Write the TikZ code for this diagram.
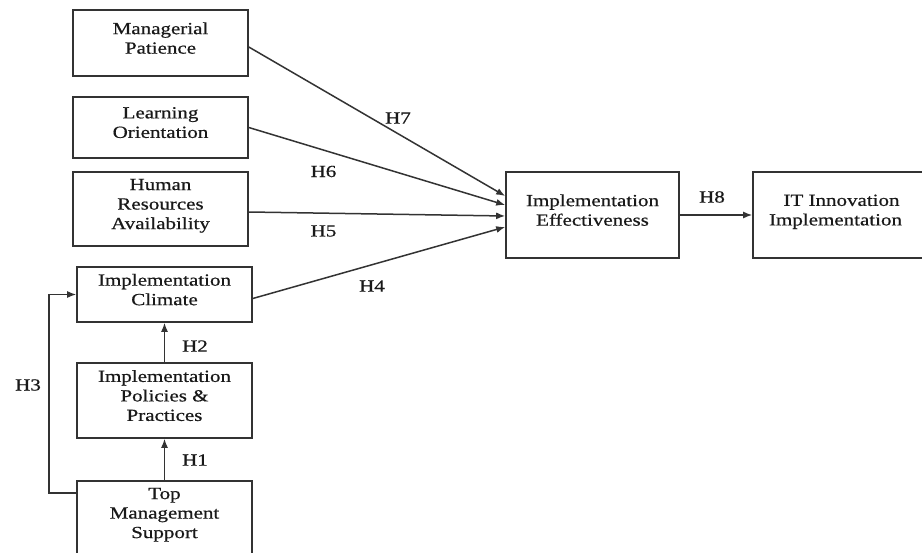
\documentclass[tikz,border=0pt]{standalone}
\usepackage{fontspec}
\setmainfont{Liberation Serif}[FakeStretch=1.235, FakeBold=0.6]
\usetikzlibrary{arrows.meta}

\tikzset{
  box/.style={draw=black!80, line width=1.6pt, minimum width=175pt, align=center, inner sep=0pt,
    execute at begin node={\rule{0pt}{12pt}}, execute at end node={\rule[-10pt]{0pt}{10pt}}},
  arr/.style={-{Latex[length=9pt,width=7pt]}, draw=black!80, line width=1.5pt},
  hyp/.style={inner sep=0pt}
}

\begin{document}
\begin{tikzpicture}[x=1pt, y=-1pt, font=\fontsize{17}{19.5}\selectfont, text=black!90]
  \useasboundingbox[fill=white] (0,0) rectangle (922,553);

  % left column
  \node[box, minimum height=66pt] (mp) at (160.5,43) {Managerial\\Patience};
  \node[box, minimum height=61pt] (lo) at (160.5,127.5) {Learning\\Orientation};
  \node[box, minimum height=74pt] (hr) at (160.5,209) {Human\\Resources\\Availability};
  \node[box, minimum height=55pt] (ic) at (164.5,294.5) {Implementation\\Climate};
  \node[box, minimum height=75pt] (ipp) at (164.5,400.5) {Implementation\\Policies \&\\Practices};
  \node[box, minimum height=74pt] (tms) at (164.5,518) {Top\\Management\\Support};

  % right side
  \node[box, minimum width=173pt, minimum height=86pt] (ie) at (592.5,215) {Implementation\\Effectiveness};
  \node[box, minimum width=177pt, minimum height=86pt] (it) at (841.5,215) {IT Innovation\\Implementation\hspace*{12pt}};

  \draw[arr] ([yshift=-4pt]mp.east) -- ([yshift=19pt]ie.west);
  \draw[arr] (lo.east) -- ([yshift=10pt]ie.west);
  \draw[arr] ([yshift=-3pt]hr.east) -- ([yshift=-1pt]ie.west);
  \draw[arr] ([yshift=-4pt]ic.east) -- ([yshift=-12pt]ie.west);
  \draw[arr] (ie) -- (it);
  \draw[arr] (ipp) -- (ic);
  \draw[arr] (tms) -- (ipp);
  \draw[arr] ([yshift=25pt]tms.west) -- ++(-27,0) |- (ic.west);

  % hypotheses
  \node[hyp] (h1) at (195,460) {H1};
  \node[hyp] (h2) at (195,346) {H2};
  \node[hyp] (h3) at (28,385) {H3};
  \node[hyp] (h4) at (372,286) {H4};
  \node[hyp] (h5) at (323.5,231) {H5};
  \node[hyp] (h6) at (323.5,171.5) {H6};
  \node[hyp] (h7) at (398,118) {H7};
  \node[hyp] (h8) at (712,197) {H8};
\end{tikzpicture}
\end{document}
